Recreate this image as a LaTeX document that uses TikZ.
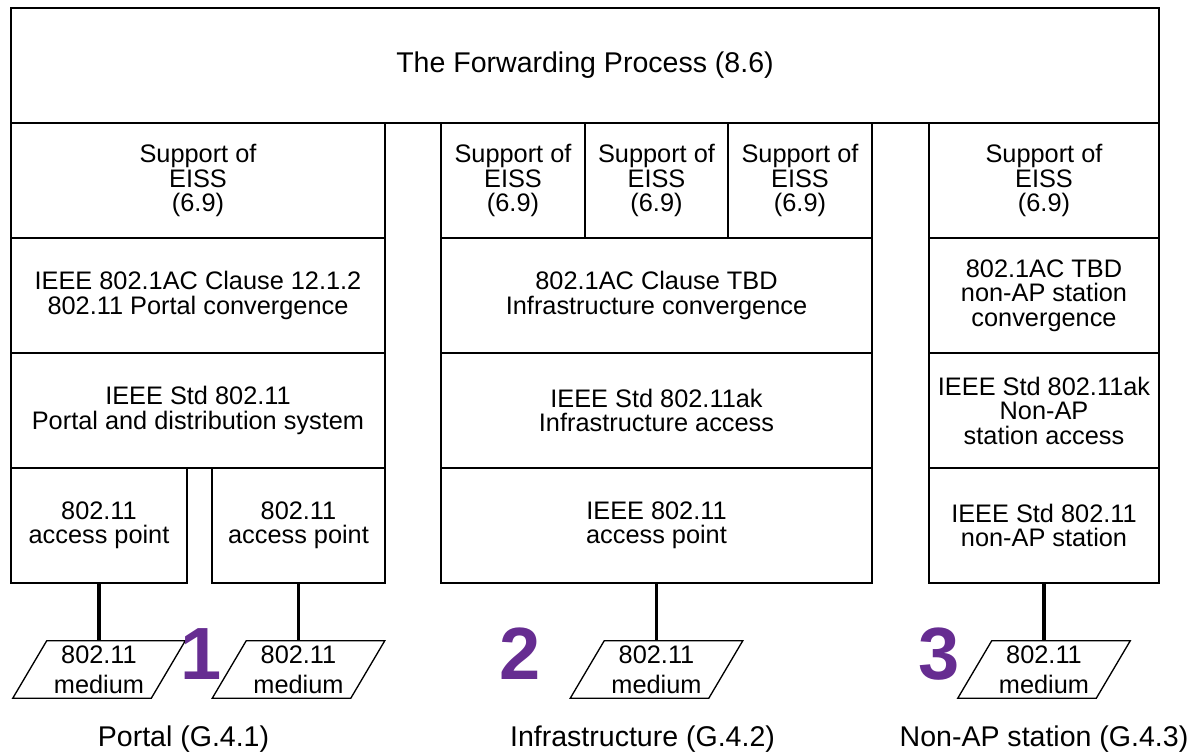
\documentclass[tikz,border=0pt]{standalone}
\usepackage{fontspec}
\setmainfont{Liberation Sans}
\definecolor{numpurple}{RGB}{102,45,145}
\newcommand\diagbody{\fontsize{19}{18.4}\selectfont}
\newcommand\diagtitle{\fontsize{21.4}{22}\selectfont}
\newcommand\diagmedium{\fontsize{19}{22.5}\selectfont}
\newcommand\diagnum{\fontsize{55.5}{56}\selectfont\bfseries}
% \layerbox[style]{name}{x1}{y1}{x2}{y2}{text}: a box spanning two corners
\newcommand\layerbox[7][]{%
  \node[box, #1, minimum width={(#5-#3)*0.75pt}, minimum height={(#6-#4)*0.75pt}]
    (#2) at ({(#3+#5)/2},{(#4+#6)/2}) {#7};}

\begin{document}
\begin{tikzpicture}[x=0.75pt,y=-0.75pt,
  box/.style={draw, line width=1pt, inner sep=0pt, align=center, font=\diagbody},
  titlebox/.style={font=\diagtitle},
  medium/.style={inner sep=0pt, minimum width=129pt, minimum height=42.75pt,
                 align=center, font=\diagmedium},
  mediumedge/.style={draw, line width=1pt, line join=miter},
  link/.style={draw, line width=2.4pt},
  number/.style={inner sep=0pt, text=numpurple, font=\diagnum},
  caption/.style={anchor=base, inner sep=0pt, font=\diagtitle}]

\useasboundingbox (0,0) rectangle (1192,753);

% forwarding process across the top
\layerbox[titlebox]{fwd}{11}{8}{1159}{123}{The Forwarding Process (8.6)}

% portal stack
\layerbox{ps}{11}{123}{385}{238}{Support of\\EISS\\(6.9)}
\layerbox{pconv}{11}{238}{385}{353}{IEEE 802.1AC Clause 12.1.2\\802.11 Portal convergence}
\layerbox{pds}{11}{353}{385}{468}{IEEE Std 802.11\\Portal and distribution system}
\layerbox{ap1}{11}{468}{187}{583}{802.11\\access point}
\layerbox{ap2}{212}{468}{385}{583}{802.11\\access point}

% infrastructure stack
\layerbox{is1}{441}{123}{585}{238}{Support of\\EISS\\(6.9)}
\layerbox{is2}{585}{123}{728}{238}{Support of\\EISS\\(6.9)}
\layerbox{is3}{728}{123}{872}{238}{Support of\\EISS\\(6.9)}
\layerbox{iconv}{441}{238}{872}{353}{802.1AC Clause TBD\\Infrastructure convergence}
\layerbox{iacc}{441}{353}{872}{468}{IEEE Std 802.11ak\\Infrastructure access}
\layerbox{iap}{441}{468}{872}{583}{IEEE 802.11\\access point}

% non-AP station stack
\layerbox{ns}{929}{123}{1159}{238}{Support of\\EISS\\(6.9)}
\layerbox{nconv}{929}{238}{1159}{353}{802.1AC TBD\\non-AP station\\convergence}
\layerbox{nacc}{929}{353}{1159}{468}{IEEE Std 802.11ak\\Non-AP\\station access}
\layerbox{nsta}{929}{468}{1159}{583}{IEEE Std 802.11\\non-AP station}

% media
\node[medium] (m1) at (99,669.5) {802.11\\medium};
\node[medium] (m2) at (298.5,669.5) {802.11\\medium};
\node[medium] (m3) at (656.5,669.5) {802.11\\medium};
\node[medium] (m4) at (1044,669.5) {802.11\\medium};
\foreach \m in {m1,m2,m3,m4}
  \draw[mediumedge] (\m.south west) -- ([xshift=25.5pt]\m.north west)
    -- (\m.north east) -- ([xshift=-25.5pt]\m.south east) -- cycle;

% attachments
\draw[link] (ap1.south) -- (m1.north);
\draw[link] (ap2.south) -- (m2.north);
\draw[link] (iap.south) -- (m3.north);
\draw[link] (nsta.south) -- (m4.north);

% case numbers
\node[number] (n1) at (201.5,654) {1};
\node[number] (n2) at (520,654) {2};
\node[number] (n3) at (939,654) {3};

% captions
\node[caption] (c1) at (183.5,746) {Portal (G.4.1)};
\node[caption] (c2) at (642.5,746) {Infrastructure (G.4.2)};
\node[caption] (c3) at (1044,746) {Non-AP station (G.4.3)};
\end{tikzpicture}
\end{document}
